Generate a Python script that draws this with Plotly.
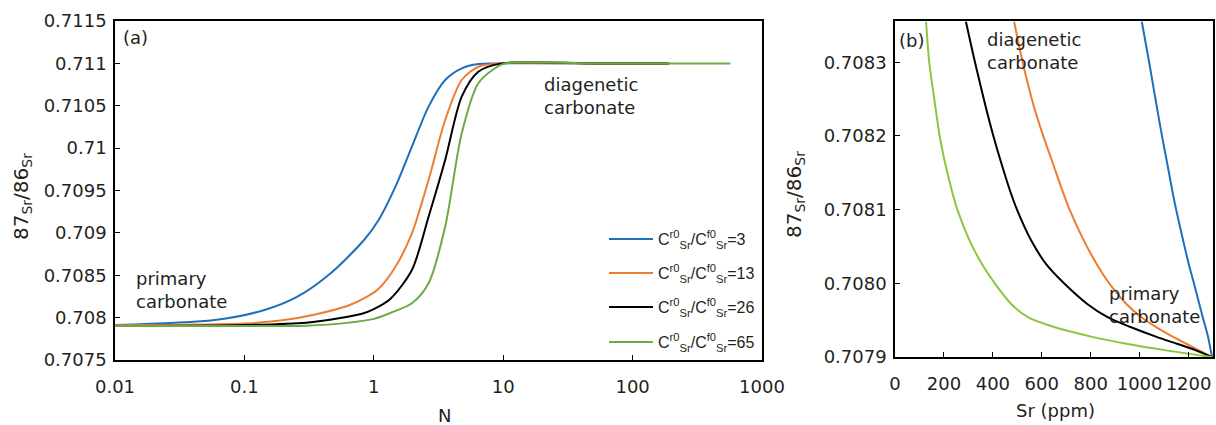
import plotly.graph_objects as go

# ---------- Panel (a) data: 87Sr/86Sr vs N ----------
labels = ["C<sup>r0</sup><sub>Sr</sub>/C<sup>f0</sup><sub>Sr</sub>=3",
          "C<sup>r0</sup><sub>Sr</sub>/C<sup>f0</sup><sub>Sr</sub>=13",
          "C<sup>r0</sup><sub>Sr</sub>/C<sup>f0</sup><sub>Sr</sub>=26",
          "C<sup>r0</sup><sub>Sr</sub>/C<sup>f0</sup><sub>Sr</sub>=65"]
colors_a = ["#1f6fba", "#ed7d31", "#000000", "#6aab46"]
colors_b = ["#1f6fba", "#ed7d31", "#000000", "#8cc63f"]

n_blue = [0.01, 0.059, 0.143, 0.257, 0.464, 0.84, 1.09, 1.47, 1.97, 2.65, 3.56, 4.78, 6.42, 9.16, 50, 190]
y_blue = [0.707913, 0.707972, 0.70809, 0.708247, 0.708523, 0.708916, 0.709152, 0.709545, 0.710017,
          0.71049, 0.710804, 0.710942, 0.710993, 0.711, 0.711, 0.711]

n_orange = [0.01, 0.1, 0.19, 0.345, 0.624, 0.889, 1.09, 1.47, 1.97, 2.65, 3.56, 4.78, 6.42, 9.5, 50, 190]
y_orange = [0.70791, 0.70793, 0.707965, 0.708035, 0.708137, 0.708247, 0.70834, 0.7086, 0.708995,
            0.709624, 0.710332, 0.710804, 0.71096, 0.711, 0.711, 0.711]

n_black = [0.01, 0.1, 0.3, 0.55, 0.81, 1.0, 1.34, 1.97, 2.65, 3.56, 4.78, 6.42, 9.8, 50, 190]
y_black = [0.7079, 0.707912, 0.70794, 0.707995, 0.708045, 0.7081, 0.70822, 0.708562, 0.709191,
           0.70986, 0.710607, 0.710902, 0.711, 0.711, 0.711]

n_green = [0.01, 0.1, 0.3, 0.6, 1.0, 1.34, 1.97, 2.65, 3.56, 4.78, 6.42, 8.63, 10.3, 50, 570]
y_green = [0.7079, 0.7079, 0.707905, 0.707935, 0.707985, 0.708055, 0.708169, 0.708405, 0.709073,
           0.710175, 0.710765, 0.710942, 0.711, 0.711, 0.711]

# ---------- Panel (b) data: 87Sr/86Sr vs Sr (ppm) ----------
r_b = [0.708355, 0.7083, 0.708242, 0.708199, 0.708166, 0.708125, 0.708099, 0.708058, 0.708026,
       0.708, 0.707972, 0.707954, 0.707941, 0.707927, 0.707918, 0.707909, 0.7079]
sr_green = [127, 140, 164, 183, 203, 233, 256, 305, 356, 408, 475, 543, 647, 811, 946, 1108, 1296]
sr_black = [290, 327, 369, 403, 432, 471, 500, 557, 618, 691, 786, 869, 960, 1072, 1153, 1230, 1296]
sr_orange = [487, 522, 566, 607, 642, 685, 715, 772, 825, 876, 946, 1007, 1066, 1139, 1191, 1243, 1296]
r_blue = [0.708355, 0.7083, 0.708242, 0.708199, 0.708166, 0.708125, 0.708099, 0.708058, 0.708026,
          0.708, 0.707972, 0.707954, 0.707941, 0.707927, 0.7079]
sr_blue = [1009, 1039, 1069, 1092, 1111, 1134, 1150, 1178, 1201, 1222, 1244, 1258, 1269, 1280, 1296]

a_xticks = [0.01, 0.1, 1, 10, 100, 1000]
a_xticktext = ["0.01", "0.1", "1", "10", "100", "1000"]
a_yticks = [0.7075, 0.708, 0.7085, 0.709, 0.7095, 0.71, 0.7105, 0.711, 0.7115]
a_yticktext = ["0.7075", "0.708", "0.7085", "0.709", "0.7095", "0.71", "0.7105", "0.711", "0.7115"]
b_xticks = [0, 200, 400, 600, 800, 1000, 1200]
b_yticks = [0.7079, 0.7080, 0.7081, 0.7082, 0.7083]

FONT = "DejaVu Sans, sans-serif"
LFONT = "Liberation Sans, Arial, sans-serif"
TXT = "#231f20"

fig = go.Figure()
series_a = [(n_blue, y_blue), (n_orange, y_orange), (n_black, y_black), (n_green, y_green)]
legend_ids = ["legend", "legend2", "legend3", "legend4"]
for (xs, ys), lab, col, lg in zip(series_a, labels, colors_a, legend_ids):
    fig.add_trace(go.Scatter(x=xs, y=ys, mode="lines", name=lab, legend=lg,
                             line=dict(color=col, width=2, shape="spline", smoothing=0.8),
                             xaxis="x", yaxis="y"))
series_b = [(sr_blue, r_blue), (sr_orange, r_b), (sr_black, r_b), (sr_green, r_b)]
for (xs, ys), col in zip(series_b, colors_b):
    fig.add_trace(go.Scatter(x=xs, y=ys, mode="lines", showlegend=False,
                             line=dict(color=col, width=2, shape="spline", smoothing=0.8),
                             xaxis="x2", yaxis="y2"))

W, H = 1216, 425
axis_common = dict(showline=True, linecolor="black", linewidth=1.5, mirror=True,
                   ticks="inside", ticklen=5, tickwidth=1.2, tickcolor="black",
                   showgrid=False, zeroline=False, automargin=False,
                   tickfont=dict(family=FONT, size=18, color=TXT))

fig.update_layout(
    width=W, height=H,
    margin=dict(l=0, r=0, t=0, b=0),
    paper_bgcolor="white", plot_bgcolor="white",
    font=dict(family=FONT, size=18, color=TXT),
    xaxis=dict(type="log", range=[-2, 3], tickvals=a_xticks, ticktext=a_xticktext,
               domain=[115 / W, 762 / W], anchor="y", ticklabelstandoff=10, **axis_common),
    yaxis=dict(range=[0.7075, 0.7115], tickvals=a_yticks, ticktext=a_yticktext,
               domain=[1 - 360 / H, 1 - 21 / H], anchor="x", ticklabelstandoff=3, **axis_common),
    xaxis2=dict(range=[0, 1300], tickvals=b_xticks,
                domain=[895 / W, 1213 / W], anchor="y2", ticklabelstandoff=10, **axis_common),
    yaxis2=dict(range=[0.7079, 0.708356], tickvals=b_yticks, tickformat=".4f",
                domain=[1 - 357 / H, 1 - 21 / H], anchor="x2", ticklabelstandoff=3, **axis_common),
    showlegend=True,
)
leg_y = [239, 273, 307, 342]
for lg, yy in zip(legend_ids, leg_y):
    fig.update_layout({lg: dict(x=604 / W, y=1 - yy / H, xanchor="left", yanchor="middle",
                                bgcolor="rgba(0,0,0,0)", itemwidth=44,
                                font=dict(family=LFONT, size=16, color=TXT))})

ann = [
    dict(text="(a)", x=121 / W, y=1 - 38 / H, xref="paper", yref="paper", xanchor="left", yanchor="middle", font=dict(size=18)),
    dict(text="(b)", x=897 / W, y=1 - 40 / H, xref="paper", yref="paper", xanchor="left", yanchor="middle", font=dict(size=18)),
    dict(text="primary<br>carbonate", x=-1.85, y=0.708326, xref="x", yref="y", xanchor="left", yanchor="middle", align="left", font=dict(size=18)),
    dict(text="diagenetic<br>carbonate", x=1.30, y=0.710615, xref="x", yref="y", xanchor="left", yanchor="middle", align="left", font=dict(size=18)),
    dict(text="diagenetic<br>carbonate", x=366, y=0.708315, xref="x2", yref="y2", xanchor="left", yanchor="middle", align="left", font=dict(size=18)),
    dict(text="primary<br>carbonate", x=866, y=0.70797, xref="x2", yref="y2", xanchor="left", yanchor="middle", align="left", font=dict(size=18)),
    dict(text="N", x=444 / W, y=1 - 415 / H, xref="paper", yref="paper", xanchor="center", yanchor="middle", font=dict(size=18)),
    dict(text="Sr (ppm)", x=1055 / W, y=1 - 410 / H, xref="paper", yref="paper", xanchor="center", yanchor="middle", font=dict(size=18)),
    dict(text="87<sub>Sr</sub>/86<sub>Sr</sub>", x=22 / W, y=1 - 197 / H, xref="paper", yref="paper", xanchor="center", yanchor="middle", textangle=-90, font=dict(size=20)),
    dict(text="87<sub>Sr</sub>/86<sub>Sr</sub>", x=795 / W, y=1 - 195 / H, xref="paper", yref="paper", xanchor="center", yanchor="middle", textangle=-90, font=dict(size=20)),
]
for a in ann:
    a["showarrow"] = False
fig.update_layout(annotations=ann)

fig.write_html("out.html")
